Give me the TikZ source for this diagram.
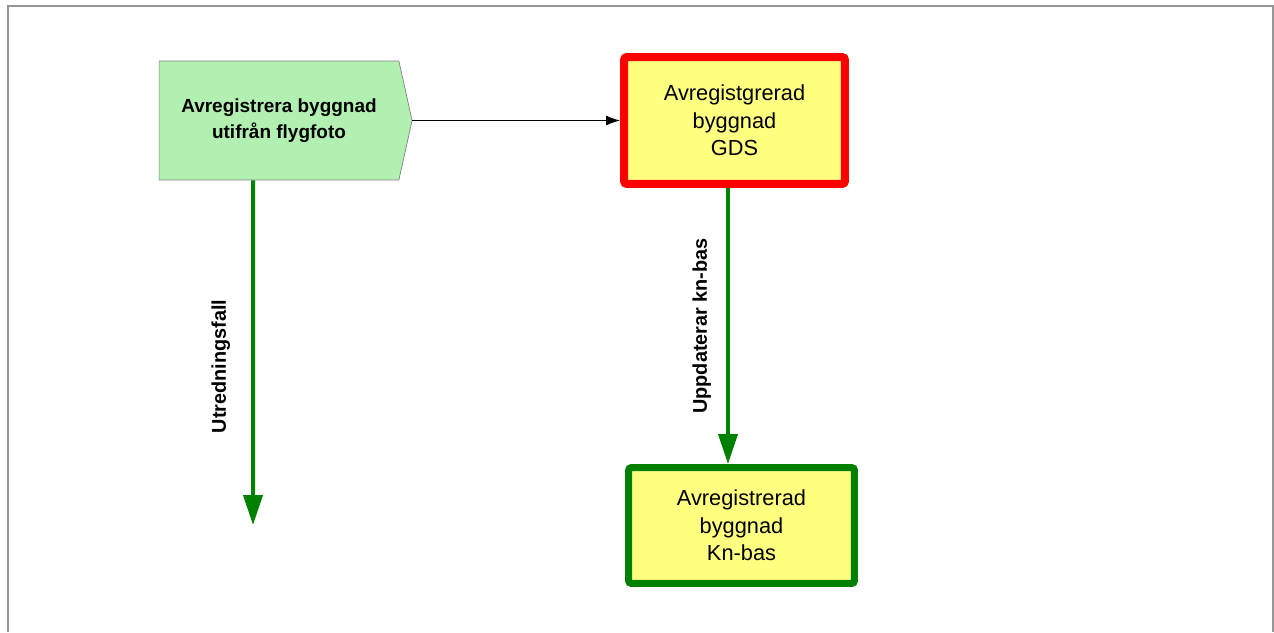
\documentclass[tikz,border=0pt]{standalone}
\usepackage{fontspec}
\setmainfont{Liberation Sans}
\usetikzlibrary{shapes.symbols,arrows.meta}

\definecolor{rahmengrau}{RGB}{150,150,150}
\definecolor{funkgruen}{RGB}{178,240,178}
\definecolor{boxgelb}{RGB}{255,255,128}
\definecolor{pfeilgruen}{RGB}{0,128,0}

\tikzset{
    funktion/.style={signal, signal to=east, signal pointer angle=155, draw=gray, fill=funkgruen,
        minimum width=5.06cm, minimum height=2.38cm, inner sep=0pt, align=center,
        font=\fontsize{10.8}{14.4}\selectfont\bfseries},
    ereignis/.style={rectangle, rounded corners=0.06cm, fill=boxgelb, inner sep=0pt, align=center,
        font=\fontsize{12.4}{15.6}\selectfont},
    flussgruen/.style={pfeilgruen, line width=0.08cm, -{Triangle[length=0.6cm,width=0.38cm]}},
    etikett/.style={black, rotate=90, anchor=south, font=\fontsize{11.3}{13}\selectfont\bfseries},
}

\begin{document}
\begin{tikzpicture}[x=0.02cm, y=-0.02cm]
    \useasboundingbox (0,0) rectangle (1274,632);

    % Rahmen
    \draw[rahmengrau, line width=0.04cm] (8,632) -- (8,6) -- (1273,6) -- (1273,632);

    % Knoten
    \node[funktion] (funk) at (279,120.5) {Avregistrera byggnad\\utifrån flygfoto};
    \node[ereignis, draw=red, line width=0.16cm, minimum width=4.42cm, minimum height=2.54cm]
        (gds) at (734.5,120.5) {Avregistgrerad\\byggnad\\GDS};
    \node[ereignis, draw=pfeilgruen, line width=0.14cm, minimum width=4.52cm, minimum height=2.32cm]
        (kn) at (741.5,525.5) {Avregistrerad\\byggnad\\Kn-bas};
    \coordinate (ende) at (253,525);

    % Pfeile
    \draw[line width=0.6pt, -{Latex[length=0.28cm,width=0.2cm]}] (funk.east) -- (gds.west);
    \draw[flussgruen] ([xshift=-0.13cm]gds.south) -- ([xshift=-0.13cm]gds.south |- kn.north)
        node[etikett, midway, inner sep=0.3cm] {Uppdaterar kn-bas};
    \draw[flussgruen] ([xshift=-0.52cm]funk.south) -- (ende)
        node[etikett, pos=0.54, inner sep=0.42cm] {Utredningsfall};

\end{tikzpicture}
\end{document}
